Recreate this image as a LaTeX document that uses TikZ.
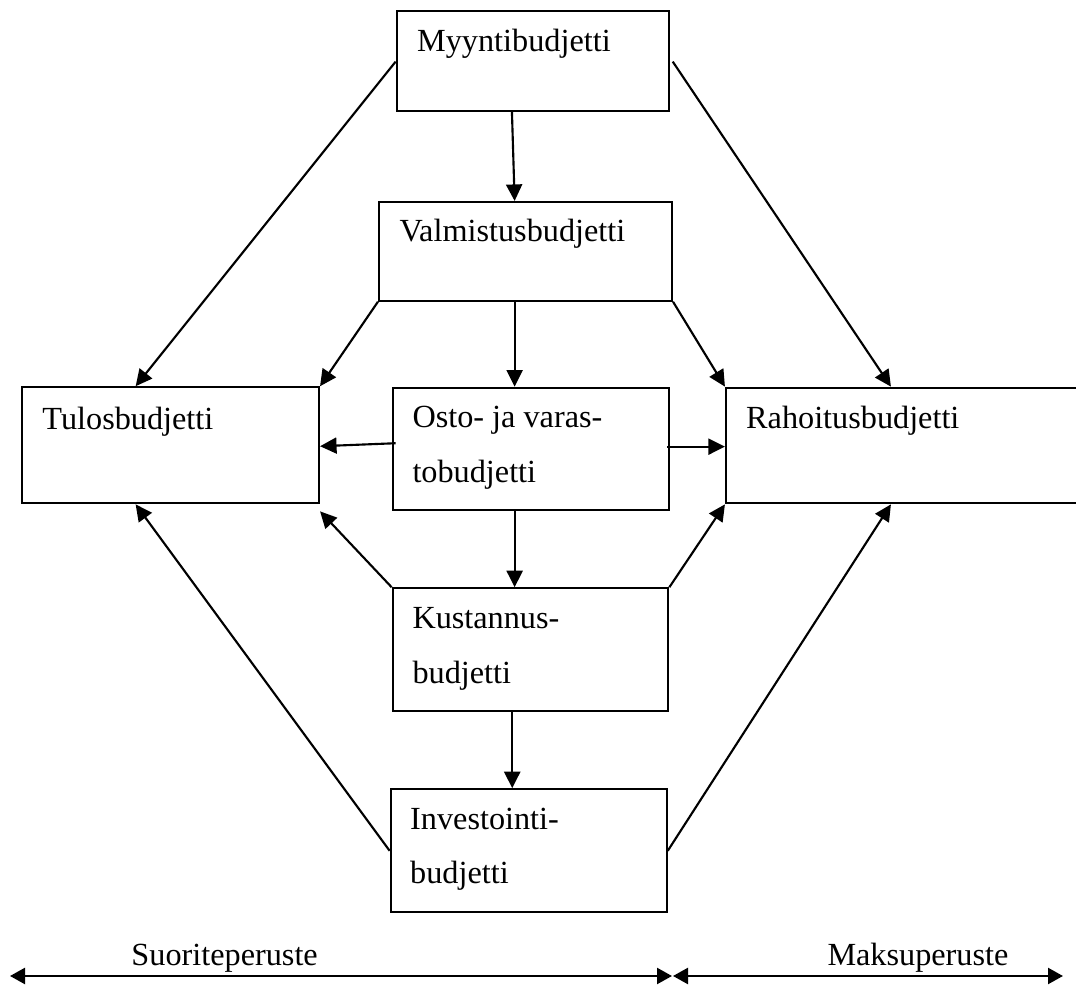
\documentclass[tikz,border=0pt]{standalone}
\usepackage{fontspec}
\setmainfont{Liberation Serif}
\usetikzlibrary{arrows.meta,calc,fit}

\begin{document}
\begin{tikzpicture}[x=0.4pt,y=-0.4pt,
  budget/.style={draw, line width=0.85pt, inner sep=0pt, rectangle},
  lbl/.style={anchor=base west, inner sep=0pt, font=\fontsize{12.9}{15}\selectfont},
  link/.style={line width=0.85pt, -{Triangle[length=6.6pt,width=6.4pt]}},
  span/.style={line width=0.95pt, {Triangle[length=6pt,width=6.4pt]}-{Triangle[length=6pt,width=6.4pt]}}]

\clip (0,0) rectangle (1076,985);

% budget boxes
\node[budget, fit={(396.7,10.7) (669,110.7)}] (M) {};
\node[budget, fit={(379,202) (672,300.7)}] (V) {};
\node[budget, fit={(21.7,387.3) (319,503.3)}] (T) {};
\node[budget, fit={(392.7,387.7) (669,510)}] (O) {};
\node[budget, fit={(726,387.7) (1090,503.3)}] (R) {};
\node[budget, fit={(392.7,588.3) (668.3,711)}] (K) {};
\node[budget, fit={(390.7,789.3) (666.7,912.3)}] (I) {};

% box texts
\node[lbl] (tM) at (416.7,52) {Myyntibudjetti};
\node[lbl] (tV) at (399,241.7) {Valmistusbudjetti};
\node[lbl] (tT) at (42,429.3) {Tulosbudjetti};
\node[lbl] (tO1) at (412,428) {Osto- ja varas-};
\node[lbl] (tO2) at (412,482.7) {tobudjetti};
\node[lbl] (tR) at (745.7,429) {Rahoitusbudjetti};
\node[lbl] (tK1) at (412,628.3) {Kustannus-};
\node[lbl] (tK2) at (412,683.3) {budjetti};
\node[lbl] (tI1) at (409.7,830) {Investointi-};
\node[lbl] (tI2) at (409.7,884) {budjetti};

% connectors
\draw[link] ($(M.south west)+(116.3,0)$) -- ($(V.north west)+(136.7,0)$);
\draw[link] ($(M.north west)+(0,52)$) -- ($(T.north west)+(115,0)$);
\draw[link] ($(M.north east)+(2.7,52)$) -- ($(R.north west)+(166,0)$);
\draw[link] (V.south west) -- (T.north east);
\draw[link] (V.south east) -- (R.north west);
\draw[link] ($(V.south west)+(136.7,0)$) -- ($(O.north west)+(123,0)$);
\draw[link] ($(O.north west)+(4,56.6)$) -- ($(T.north east)+(0,60)$);
\draw[link] ($(O.north east)+(-3,60)$) -- ($(R.north west)+(0,60)$);
\draw[link] ($(O.south west)+(123,0)$) -- ($(K.north west)+(123,0)$);
\draw[link] (K.north west) -- ($(T.south east)+(0,7)$);
\draw[link] (K.north east) -- (R.south west);
\draw[link] ($(K.south west)+(120.6,0)$) -- ($(I.north west)+(122.6,0)$);
\draw[link] (I.west) -- ($(T.south west)+(115,0)$);
\draw[link] (I.east) -- ($(R.south west)+(166,0)$);

% accounting bases
\coordinate (s1) at (10,976);
\coordinate (s2) at (672,976);
\coordinate (m1) at (673,976);
\coordinate (m2) at (1063,976);
\draw[span] (s1) -- (s2);
\draw[span] (m1) -- (m2);
\node[lbl] (tS) at (131,966) {Suoriteperuste};
\node[lbl] (tMk) at (827,966) {Maksuperuste};

\end{tikzpicture}
\end{document}
